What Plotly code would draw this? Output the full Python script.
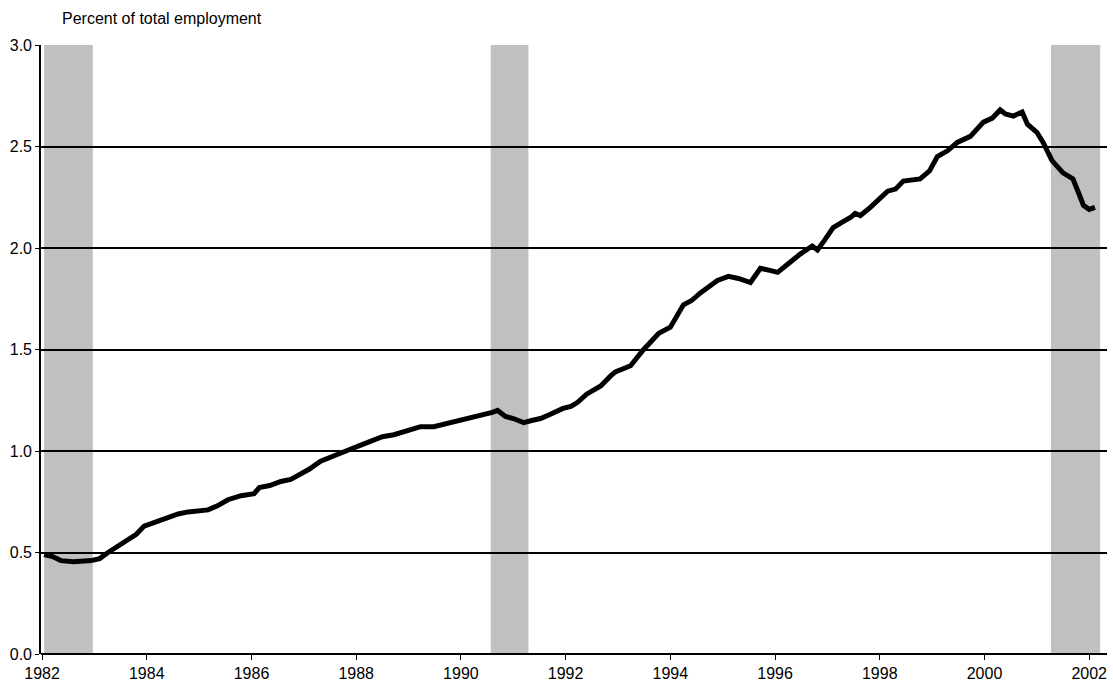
import plotly.graph_objects as go

# Decimal-year dates and percent of total employment
years = [1982.04, 1982.2, 1982.36, 1982.6, 1982.94, 1983.1, 1983.26, 1983.45, 1983.64, 1983.8,
         1983.95, 1984.15, 1984.4, 1984.6, 1984.79, 1985.0, 1985.17, 1985.35, 1985.55, 1985.8,
         1986.05, 1986.15, 1986.35, 1986.56, 1986.75, 1986.89, 1987.1, 1987.32, 1987.5, 1987.7,
         1987.9, 1988.1, 1988.28, 1988.5, 1988.72, 1989.0, 1989.23, 1989.48, 1989.65, 1989.8,
         1990.0, 1990.13, 1990.43, 1990.6, 1990.7, 1990.85, 1991.0, 1991.2, 1991.35, 1991.52,
         1991.7, 1991.95, 1992.1, 1992.23, 1992.4, 1992.67, 1992.86, 1992.95, 1993.24, 1993.49,
         1993.78, 1994.0, 1994.25, 1994.4, 1994.58, 1994.75, 1994.9, 1995.11, 1995.3, 1995.53,
         1995.62, 1995.72, 1995.9, 1996.05, 1996.24, 1996.48, 1996.71, 1996.81, 1996.95, 1997.11,
         1997.3, 1997.44, 1997.53, 1997.63, 1997.82, 1998.0, 1998.15, 1998.3, 1998.45, 1998.77,
         1998.95, 1999.1, 1999.3, 1999.48, 1999.73, 1999.98, 2000.15, 2000.3, 2000.4, 2000.55,
         2000.72, 2000.82, 2001.0, 2001.12, 2001.29, 2001.5, 2001.69, 2001.8, 2001.89, 2002.0,
         2002.11]
share = [0.49, 0.48, 0.46, 0.455, 0.46, 0.47, 0.50, 0.53, 0.56, 0.59,
         0.63, 0.65, 0.67, 0.69, 0.70, 0.705, 0.71, 0.73, 0.76, 0.78,
         0.79, 0.82, 0.83, 0.85, 0.86, 0.88, 0.91, 0.95, 0.97, 0.99,
         1.01, 1.03, 1.05, 1.07, 1.08, 1.10, 1.12, 1.12, 1.13, 1.14,
         1.15, 1.16, 1.18, 1.19, 1.20, 1.17, 1.16, 1.14, 1.15, 1.16,
         1.18, 1.21, 1.22, 1.24, 1.28, 1.32, 1.37, 1.39, 1.42, 1.50,
         1.58, 1.61, 1.72, 1.74, 1.78, 1.81, 1.84, 1.86, 1.85, 1.83,
         1.86, 1.90, 1.89, 1.88, 1.92, 1.97, 2.01, 1.99, 2.04, 2.10,
         2.13, 2.15, 2.17, 2.16, 2.20, 2.24, 2.28, 2.29, 2.33, 2.34,
         2.38, 2.45, 2.48, 2.52, 2.55, 2.62, 2.64, 2.68, 2.66, 2.65,
         2.67, 2.61, 2.57, 2.52, 2.43, 2.37, 2.34, 2.27, 2.21, 2.19,
         2.20]

# Recession periods (shaded)
recession_start = [1982.04, 1990.57, 2001.27]
recession_end = [1982.97, 1991.29, 2002.21]

tick_years = [1982, 1984, 1986, 1988, 1990, 1992, 1994, 1996, 1998, 2000, 2002]
y_ticks = [0.0, 0.5, 1.0, 1.5, 2.0, 2.5, 3.0]

FONT = "Liberation Sans, Arial, sans-serif"

fig = go.Figure()

for x0, x1 in zip(recession_start, recession_end):
    fig.add_shape(type="rect", xref="x", yref="y", x0=x0, x1=x1, y0=-0.02, y1=3.0,
                  fillcolor="#C0C0C0", line=dict(width=0), layer="below")

fig.add_trace(go.Scatter(x=years, y=share, mode="lines",
                         line=dict(color="black", width=5), showlegend=False,
                         hoverinfo="x+y"))

fig.add_annotation(text="Percent of total employment", xref="paper", yref="paper",
                   x=0.018, y=1.043, xanchor="left", yanchor="middle", showarrow=False,
                   font=dict(family=FONT, size=16, color="black"))

fig.update_layout(
    width=1113, height=691,
    margin=dict(l=41, r=6, t=45, b=37, autoexpand=False),
    paper_bgcolor="white", plot_bgcolor="rgba(0,0,0,0)",
    font=dict(family=FONT, size=16, color="black"),
    xaxis=dict(range=[1981.98, 2002.34], tickmode="array", tickvals=tick_years,
               ticktext=[str(t) for t in tick_years], showgrid=False, zeroline=False,
               showline=False, ticks="outside", ticklen=5, tickcolor="black", tickwidth=1.3,
               automargin=False),
    yaxis=dict(range=[0, 3.0], tickmode="array", tickvals=y_ticks, tickformat=".1f",
               showgrid=True, gridcolor="black", gridwidth=1.5, zeroline=True,
               zerolinecolor="black", zerolinewidth=1.6,
               showline=True, linecolor="black", linewidth=1.6,
               ticks="outside", ticklen=4, tickcolor="black", tickwidth=1.3,
               automargin=False),
)

fig.write_html("out.html", config={"displayModeBar": False},
               post_script="document.body.style.margin='0';document.body.style.padding='0';")
